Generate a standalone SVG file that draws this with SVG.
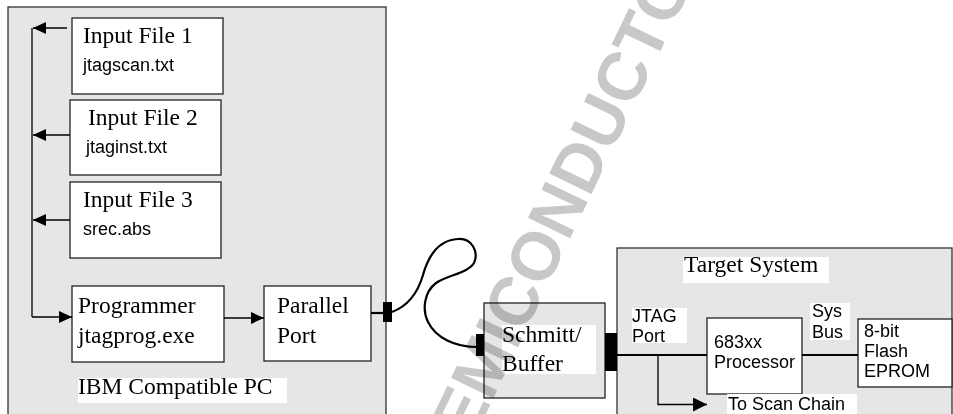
<svg xmlns="http://www.w3.org/2000/svg" width="953" height="414" viewBox="0 0 953 414">
<defs>
<style>
.panel{fill:#e6e6e6;stroke:#333;stroke-width:1.3}
.box{fill:#fff;stroke:#222;stroke-width:1.3}
.gbox{fill:#e6e6e6;stroke:#222;stroke-width:1.3}
.bg{fill:#fff;stroke:none}
.serif{font-family:"Liberation Serif","Times New Roman",serif;font-size:23.5px;fill:#000}
.sans{font-family:"Liberation Sans",Arial,sans-serif;font-size:18px;fill:#000}
.ln{stroke:#000;stroke-width:1.3;fill:none}
.thick{stroke:#000;stroke-width:2.2;fill:none}
.plug{fill:#000}
.wm{font-family:"Liberation Sans",Arial,sans-serif;font-weight:bold;font-size:68px;fill:#c8c8c8;mix-blend-mode:multiply}
</style>
<marker id="ah" viewBox="0 0 13 12" refX="13" refY="6" markerWidth="13" markerHeight="12" markerUnits="userSpaceOnUse" orient="auto">
<path d="M0,0 L13,6 L0,12 Z" fill="#000"/>
</marker>
<marker id="ah2" viewBox="0 0 14 14" refX="14" refY="7" markerWidth="14" markerHeight="14" markerUnits="userSpaceOnUse" orient="auto">
<path d="M0,0 L14,7 L0,14 Z" fill="#000"/>
</marker>
</defs>
<rect width="953" height="414" fill="#fff"/>

<g id="pc">
<rect class="panel" x="8" y="7" width="378" height="420"/>
<rect class="bg" x="78" y="378" width="209" height="25"/>
<text class="serif" x="78" y="394">IBM Compatible PC</text>
</g>

<g id="target">
<rect class="panel" x="617" y="248" width="335" height="180"/>
<rect class="bg" x="683" y="257" width="146" height="26"/>
<text class="serif" x="684" y="272">Target System</text>
</g>

<g id="input1">
<rect class="box" x="72" y="18" width="151" height="76"/>
<text class="serif" x="83" y="43">Input File 1</text>
<text class="sans" x="83" y="71">jtagscan.txt</text>
</g>
<g id="input2">
<rect class="box" x="70" y="100" width="151" height="75"/>
<text class="serif" x="88" y="125">Input File 2</text>
<text class="sans" x="86" y="153">jtaginst.txt</text>
</g>
<g id="input3">
<rect class="box" x="70" y="182" width="151" height="76"/>
<text class="serif" x="83" y="207">Input File 3</text>
<text class="sans" x="83" y="235">srec.abs</text>
</g>
<g id="programmer">
<rect class="box" x="72" y="286" width="152" height="76"/>
<text class="serif" x="78" y="313">Programmer</text>
<text class="serif" x="78" y="343">jtagprog.exe</text>
</g>
<g id="parallel">
<rect class="box" x="264" y="286" width="107" height="75"/>
<text class="serif" x="277" y="313">Parallel</text>
<text class="serif" x="277" y="343">Port</text>
</g>
<g id="schmitt">
<rect class="gbox" x="484" y="303" width="121" height="95"/>
<rect class="bg" x="502" y="325" width="94" height="49"/>
<text class="serif" x="502" y="342">Schmitt/</text>
<text class="serif" x="502" y="371">Buffer</text>
</g>
<g id="jtagport">
<rect class="bg" x="632" y="308" width="55" height="35"/>
<text class="sans" x="632" y="322">JTAG</text>
<text class="sans" x="632" y="342">Port</text>
</g>
<g id="processor">
<rect class="box" x="707" y="318" width="95" height="76"/>
<text class="sans" x="714" y="348">683xx</text>
<text class="sans" x="714" y="368">Processor</text>
</g>
<g id="sysbus">
<rect class="bg" x="810" y="303" width="40" height="37"/>
<text class="sans" x="812" y="317">Sys</text>
<text class="sans" x="812" y="338">Bus</text>
</g>
<g id="flash">
<rect class="box" x="858" y="319" width="94" height="68"/>
<text class="sans" x="864" y="337">8-bit</text>
<text class="sans" x="864" y="357">Flash</text>
<text class="sans" x="864" y="377">EPROM</text>
</g>
<g id="scanchain">
<rect class="bg" x="727" y="394" width="130" height="20"/>
<text class="sans" x="728" y="410">To Scan Chain</text>
</g>

<g id="connectors">
<path class="ln" d="M32,317 V28"/>
<path class="ln" d="M67,28 H33" marker-end="url(#ah)"/>
<path class="ln" d="M70,135 H33" marker-end="url(#ah)"/>
<path class="ln" d="M70,220 H33" marker-end="url(#ah)"/>
<path class="ln" d="M32,317 H72" marker-end="url(#ah)"/>
<path class="ln" d="M224,318 H264" marker-end="url(#ah)"/>
<path class="thick" d="M371,313 H392"/>
<rect class="plug" x="383" y="302" width="9" height="20"/>
<path class="thick" d="M392,312 C408,306 418,292 423,275 C428,257 438,240 458,239 C472,238 479,252 474,263 C468,273 448,275 436,283 C424,292 422,310 428,322 C436,338 455,347 477,347"/>
<rect class="plug" x="476" y="334" width="8" height="22"/>
<rect class="plug" x="605" y="333" width="12" height="38"/>
<path class="thick" d="M617,355 H707"/>
<path class="thick" d="M802,355 H858"/>
<path class="ln" d="M658,355 V404.5 H707" marker-end="url(#ah2)"/>
</g>

<text class="wm" transform="translate(452,484) rotate(-64.3)">SEMICONDUCTOR</text>
</svg>
